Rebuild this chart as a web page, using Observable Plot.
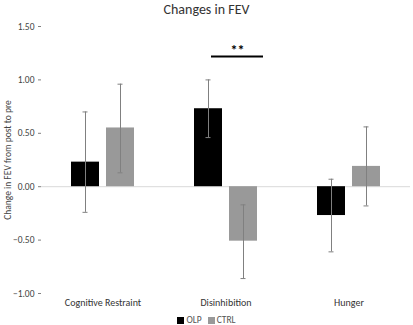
<!DOCTYPE html>
<html>
<head>
<meta charset="utf-8">
<script src="https://cdn.jsdelivr.net/npm/d3@7"></script>
<script src="https://cdn.jsdelivr.net/npm/@observablehq/plot@0.6"></script>
<style>
  body { margin: 0; background: #fff; font-family: Calibri, Carlito, "Open Sans", "Liberation Sans", sans-serif; }
  #wrap { width: 413px; height: 325px; position: relative; overflow: hidden; }
  #title { height: 20px; line-height: 20px; text-align: center; font-size: 14px; color: #333; }
  #legend { position: absolute; top: 314px; left: 0; width: 413px; text-align: center; font-size: 9.5px; color: #555; line-height: 12px; }
  .sw { display: inline-block; width: 7px; height: 7px; vertical-align: -1px; margin-right: 2px; }
  .item { margin: 0 3px; }
</style>
</head>
<body>
<div id="wrap">
  <div id="title">Changes in FEV</div>
  <div id="chart"></div>
  <div id="legend"></div>
</div>
<script>
const categories = ["Cognitive Restraint", "Disinhibition", "Hunger"];
const series = ["OLP", "CTRL"];
const seriesColors = ["#000000", "#999999"];
const olpMean = [0.23, 0.73, -0.27];
const olpLow = [-0.24, 0.46, -0.61];
const olpHigh = [0.70, 1.00, 0.07];
const ctrlMean = [0.55, -0.51, 0.19];
const ctrlLow = [0.13, -0.86, -0.18];
const ctrlHigh = [0.96, -0.17, 0.56];
const yTicks = [-1.0, -0.5, 0.0, 0.5, 1.0, 1.5];
const sigCategory = "Disinhibition";
const sigValue = 1.22;
const sigLabel = "**";

const data = [];
categories.forEach((c, i) => {
  data.push({cat: c, series: "OLP", v: olpMean[i], lo: olpLow[i], hi: olpHigh[i]});
  data.push({cat: c, series: "CTRL", v: ctrlMean[i], lo: ctrlLow[i], hi: ctrlHigh[i]});
});
const sig = [{cat: sigCategory, y: sigValue, label: sigLabel}];

const chart = Plot.plot({
  width: 413,
  height: 293,
  marginTop: 6,
  marginBottom: 20,
  marginLeft: 40,
  marginRight: 2,
  style: {fontFamily: "Calibri, Carlito, 'Open Sans', 'Liberation Sans', sans-serif", fontSize: "9.5px", color: "#555"},
  fx: {domain: categories, padding: 0, label: null, axis: null},
  x: {domain: series, paddingInner: 0.21, paddingOuter: 0.85, axis: null},
  y: {domain: [-1, 1.5], axis: null},
  color: {domain: series, range: seriesColors},
  marks: [
    Plot.ruleY([0], {stroke: "#d9d9d9", strokeWidth: 1}),
    Plot.barY(data, {fx: "cat", x: "series", y: "v", fill: "series"}),
    Plot.ruleX(data, {fx: "cat", x: "series", y1: "lo", y2: "hi", stroke: "#808080", strokeWidth: 1}),
    Plot.tickY(data, {fx: "cat", x: "series", y: "lo", stroke: "#808080", insetLeft: 11.5, insetRight: 11.5}),
    Plot.tickY(data, {fx: "cat", x: "series", y: "hi", stroke: "#808080", insetLeft: 11.5, insetRight: 11.5}),
    Plot.ruleY(sig, {fx: "cat", x1: () => "OLP", x2: () => "CTRL", y: "y", insetLeft: 17, insetRight: -6, stroke: "#000", strokeWidth: 2}),
    Plot.text(sig, {fx: "cat", x: () => "CTRL", y: "y", text: "label", dx: -6, dy: -6, fontSize: 14, fontWeight: "bold", fill: "#000"}),
    Plot.axisFx({domain: categories, anchor: "bottom", label: null, tickSize: 0, tickPadding: 5, fontSize: 10, fill: "#333"}),
    Plot.axisY({ticks: yTicks, tickFormat: d3.format(".2f"), tickSize: 3, tickPadding: 4, stroke: "#808080", fill: "#444",
      label: "Change in FEV from post to pre", labelAnchor: "center", labelArrow: false, labelOffset: 37}),
    Plot.ruleX([0], {frameAnchor: "left", y1: -1, y2: 1.5, stroke: "#808080", facetAnchor: "left"})
  ]
});
document.getElementById("chart").appendChild(chart);

const legend = document.getElementById("legend");
series.forEach((s, i) => {
  const span = document.createElement("span");
  span.className = "item";
  span.innerHTML = `<span class="sw" style="background:${seriesColors[i]}"></span>${s}`;
  legend.appendChild(span);
});
</script>
</body>
</html>
